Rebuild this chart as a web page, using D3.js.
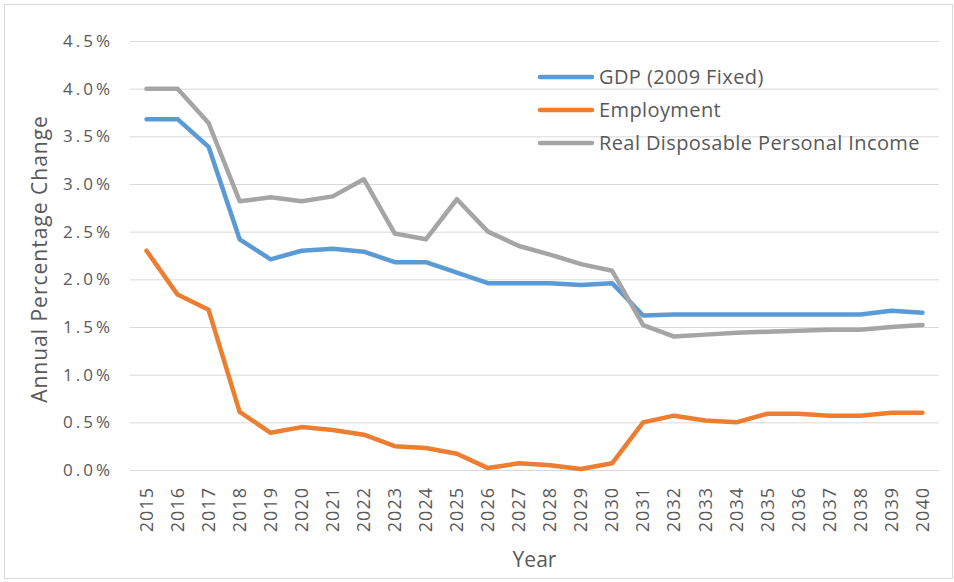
<!DOCTYPE html>
<html>
<head>
<meta charset="utf-8">
<script src="https://cdn.jsdelivr.net/npm/d3@7"></script>
<style>
	html, body { margin: 0; padding: 0; background: #fff; }
	svg text { font-family: "Open Sans", sans-serif; fill: #595959; }
</style>
</head>
<body>
<div id="chart"></div>
<script>
// Data (annual % change).
const years = d3.range(2015, 2041).map(String);
const yTicks = [0, 0.5, 1.0, 1.5, 2.0, 2.5, 3.0, 3.5, 4.0, 4.5];
const seriesNames = ['GDP (2009 Fixed)', 'Employment', 'Real Disposable Personal Income'];
const seriesColors = ['#5B9BD5', '#ED7D31', '#A5A5A5'];

const gdp = [3.68, 3.68, 3.39, 2.42, 2.21, 2.30, 2.32, 2.29, 2.18, 2.18, 2.07, 1.96, 1.96, 1.96, 1.94, 1.96,
	1.62, 1.63, 1.63, 1.63, 1.63, 1.63, 1.63, 1.63, 1.67, 1.65];
const employment = [2.30, 1.84, 1.68, 0.61, 0.39, 0.45, 0.42, 0.37, 0.25, 0.23, 0.17, 0.02, 0.07, 0.05, 0.01, 0.07,
	0.50, 0.57, 0.52, 0.50, 0.59, 0.59, 0.57, 0.57, 0.60, 0.60];
const income = [4.00, 4.00, 3.64, 2.82, 2.86, 2.82, 2.87, 3.05, 2.48, 2.42, 2.84, 2.50, 2.35, 2.26, 2.16, 2.09,
	1.52, 1.40, 1.42, 1.44, 1.45, 1.46, 1.47, 1.47, 1.50, 1.52];

/** Line chart of the three forecast series. */
class ForecastChart {
	constructor(parent) {
		this.parent = parent;
		this.dims = { width: 954, height: 582, left: 131, right: 938, top: 41, bottom: 470 };
		this._createVis();
		this._drawAxes();
		this._drawLines();
		this._drawLegend();
	}

	/** Helper method. Svg, frame and scales. */
	_createVis() {
		const d = this.dims;
		this.svg = this.parent.append('svg')
			.attr('width', d.width)
			.attr('height', d.height);

		this.svg.append('rect')
			.attr('x', 4.5).attr('y', 4.5)
			.attr('width', d.width - 6).attr('height', d.height - 8)
			.attr('fill', 'none')
			.attr('stroke', '#d9d9d9');

		this.x = d3.scaleBand().domain(years).range([d.left, d.right]);
		this.y = d3.scaleLinear().domain([0, 4.5]).range([d.bottom, d.top]);
	}

	/** Helper method. Gridlines, tick labels and titles. */
	_drawAxes() {
		const d = this.dims;
		const yAxis = this.svg.append('g')
			.attr('transform', `translate(${d.left - 1},0)`)
			.call(d3.axisLeft(this.y).tickValues(yTicks)
				.tickFormat(v => v.toFixed(1) + '%')
				.tickSize(-(d.right - d.left + 2)).tickPadding(17));
		yAxis.select('.domain').remove();
		yAxis.selectAll('line').attr('stroke', '#d9d9d9');
		yAxis.selectAll('text')
			.style('font-size', '17px')
			.style('letter-spacing', '3px')
			.attr('fill', '#595959');

		const xAxis = this.svg.append('g')
			.attr('transform', `translate(0,${d.bottom})`)
			.call(d3.axisBottom(this.x).tickSize(0));
		xAxis.select('.domain').remove();
		xAxis.selectAll('text')
			.style('font-size', '18px')
			.style('letter-spacing', '1px')
			.attr('fill', '#595959')
			.attr('transform', 'rotate(-90)')
			.attr('text-anchor', 'end')
			.attr('x', -17)
			.attr('y', 0)
			.attr('dy', '0.35em');

		this.svg.append('text')
			.attr('x', (d.left + d.right) / 2)
			.attr('y', 567)
			.attr('text-anchor', 'middle')
			.style('font-size', '21px')
			.text('Year');

		this.svg.append('text')
			.attr('transform', 'translate(47,259) rotate(-90)')
			.attr('text-anchor', 'middle')
			.style('font-size', '21px')
			.style('letter-spacing', '1px')
			.text('Annual Percentage Change');
	}

	/** Helper method. One path per series. */
	_drawLines() {
		const line = d3.line()
			.x((v, i) => this.x(years[i]) + this.x.bandwidth() / 2)
			.y(v => this.y(v));

		[gdp, employment, income].forEach((values, i) => {
			this.svg.append('path')
				.datum(values)
				.attr('d', line)
				.attr('fill', 'none')
				.attr('stroke', seriesColors[i])
				.attr('stroke-width', 4.5)
				.attr('stroke-linejoin', 'round')
				.attr('stroke-linecap', 'round');
		});
	}

	/** Helper method. Legend in the upper right. */
	_drawLegend() {
		const items = this.svg.append('g').selectAll('g')
			.data(seriesNames)
			.enter()
			.append('g')
			.attr('transform', (n, i) => `translate(540,${77 + i * 33})`);

		items.append('line')
			.attr('x1', 0).attr('x2', 52)
			.attr('stroke', (n, i) => seriesColors[i])
			.attr('stroke-width', 4.5)
			.attr('stroke-linecap', 'round');

		items.append('text')
			.attr('x', 59)
			.attr('dy', '0.35em')
			.style('font-size', '20px')
			.style('letter-spacing', '0.4px')
			.text(n => n);
	}
}

new ForecastChart(d3.select('#chart'));
</script>
</body>
</html>
